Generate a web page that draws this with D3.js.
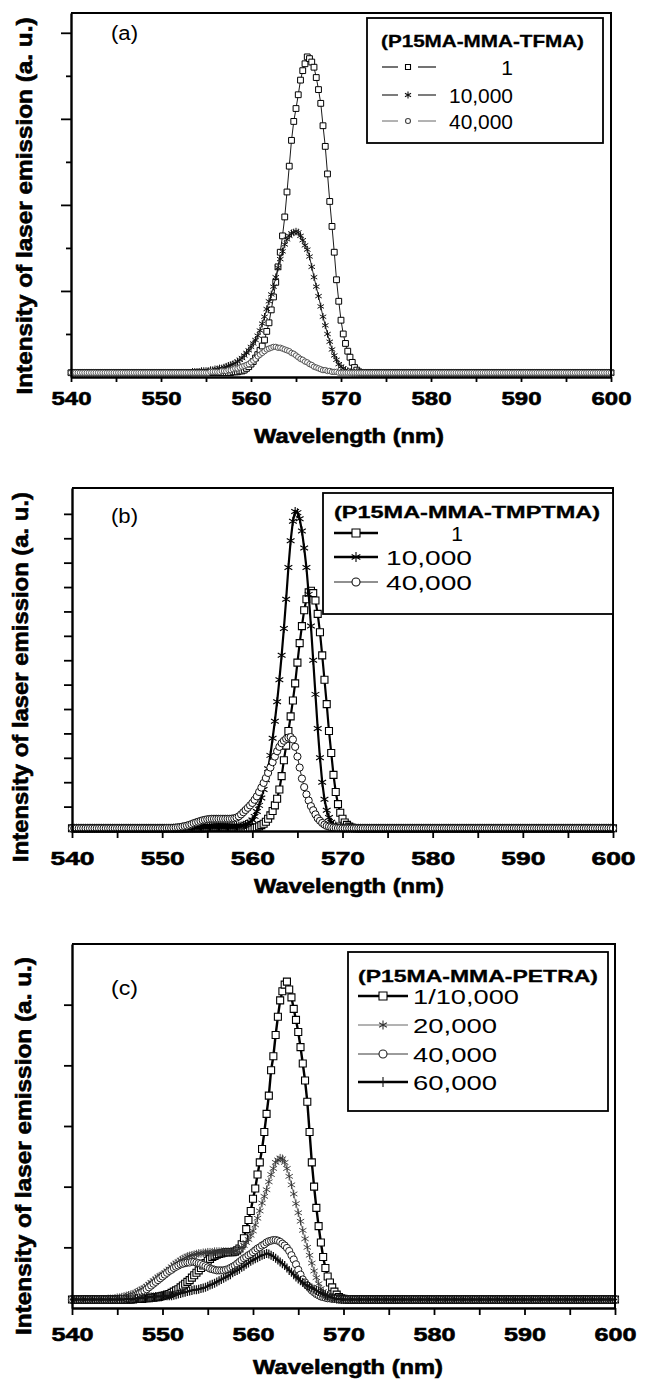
<!DOCTYPE html>
<html>
<head>
<meta charset="utf-8">
<title>Laser emission spectra</title>
<script src="https://cdn.jsdelivr.net/npm/d3@7"></script>
<style>
  html, body { margin: 0; padding: 0; background: #fff; }
  svg { display: block; }
  text { font-family: "Liberation Sans", Arial, sans-serif; fill: #000; }
</style>
</head>
<body>
<svg id="figure" width="652" height="1383"></svg>
<script>
// Wavelength axis (nm): every spectrum is sampled every 0.25 nm from 540 to 600 nm
const wavelengthStart = 540;
const wavelengthStep = 0.25;
const xTickValues = [540, 545, 550, 555, 560, 565, 570, 575, 580, 585, 590, 595, 600];
const xTickLabels = [540, 550, 560, 570, 580, 590, 600];

// Intensities in arbitrary units x100, one value per wavelength sample (241 each)

// (a) P15MA-MMA-TFMA
const titleA = "(P15MA-MMA-TFMA)";
const legendA = ["1", "10,000", "40,000"];
const tfma1 = [
  5,5,5,5,5,5,5,5,5,5,5,5,5,5,5,5,5,5,5,5,
  5,5,5,5,5,5,5,5,5,5,5,5,5,5,5,5,5,5,5,5,
  5,5,5,5,5,5,5,5,5,5,5,5,5,5,5,5,5,5,5,5,
  5,5,5,5,5,5,5,5,5,5,5,5,6,6,6,7,7,8,10,12,
  15,18,22,26,31,36,43,53,63,78,93,110,128,145,164,186,215,245,275,297,
  312,328,345,356,364,372,370,366,360,348,334,318,292,268,236,204,175,145,113,88,
  66,50,39,30,23,17,11,8,6,5,5,5,5,5,5,5,5,5,5,5,
  5,5,5,5,5,5,5,5,5,5,5,5,5,5,5,5,5,5,5,5,
  5,5,5,5,5,5,5,5,5,5,5,5,5,5,5,5,5,5,5,5,
  5,5,5,5,5,5,5,5,5,5,5,5,5,5,5,5,5,5,5,5,
  5,5,5,5,5,5,5,5,5,5,5,5,5,5,5,5,5,5,5,5,
  5,5,5,5,5,5,5,5,5,5,5,5,5,5,5,5,5,5,5,5,
  5
];
const tfma10k = [
  5,5,5,5,5,5,5,5,5,5,5,5,5,5,5,5,5,5,5,5,
  5,5,5,5,5,5,5,5,5,5,5,5,5,5,5,5,5,5,5,5,
  5,5,5,5,5,5,5,5,5,5,5,5,5,5,6,6,6,6,7,7,
  7,7,8,8,9,9,10,10,11,12,13,14,15,16,18,20,22,25,28,31,
  35,39,43,48,54,62,70,79,88,96,105,116,127,137,146,154,160,164,167,168,
  169,168,164,159,153,148,140,128,116,105,94,82,70,60,50,41,32,25,20,15,
  12,10,8,7,6,5,5,5,5,5,5,5,5,5,5,5,5,5,5,5,
  5,5,5,5,5,5,5,5,5,5,5,5,5,5,5,5,5,5,5,5,
  5,5,5,5,5,5,5,5,5,5,5,5,5,5,5,5,5,5,5,5,
  5,5,5,5,5,5,5,5,5,5,5,5,5,5,5,5,5,5,5,5,
  5,5,5,5,5,5,5,5,5,5,5,5,5,5,5,5,5,5,5,5,
  5,5,5,5,5,5,5,5,5,5,5,5,5,5,5,5,5,5,5,5,
  5
];
const tfma40k = [
  5,5,5,5,5,5,5,5,5,5,5,5,5,5,5,5,5,5,5,5,
  5,5,5,5,5,5,5,5,5,5,5,5,5,5,5,5,5,5,5,5,
  5,5,5,5,5,5,5,5,5,5,5,5,5,5,5,5,5,5,5,5,
  5,5,6,6,6,6,6,7,7,7,8,8,9,10,10,11,12,13,14,15,
  17,19,21,24,26,28,30,32,33,34,35,35,34,34,33,32,31,30,28,27,
  25,23,21,20,18,17,15,14,12,11,10,9,8,8,7,7,6,6,6,5,
  5,5,5,5,5,5,5,5,5,5,5,5,5,5,5,5,5,5,5,5,
  5,5,5,5,5,5,5,5,5,5,5,5,5,5,5,5,5,5,5,5,
  5,5,5,5,5,5,5,5,5,5,5,5,5,5,5,5,5,5,5,5,
  5,5,5,5,5,5,5,5,5,5,5,5,5,5,5,5,5,5,5,5,
  5,5,5,5,5,5,5,5,5,5,5,5,5,5,5,5,5,5,5,5,
  5,5,5,5,5,5,5,5,5,5,5,5,5,5,5,5,5,5,5,5,
  5
];

// (b) P15MA-MMA-TMPTMA
const titleB = "(P15MA-MMA-TMPTMA)";
const legendB = ["1", "10,000", "40,000"];
const tmptma1 = [
  11,11,11,11,11,11,11,11,11,11,11,11,11,11,11,11,11,11,11,11,
  11,11,11,11,11,11,11,11,11,11,11,11,11,11,11,11,11,11,11,11,
  11,11,11,11,11,11,11,11,11,11,11,11,11,11,11,11,11,11,11,11,
  12,12,13,13,14,14,14,14,14,13,13,13,12,12,12,12,12,12,12,12,
  12,13,15,19,24,30,38,50,64,82,105,132,170,225,290,350,410,470,535,605,
  690,770,840,905,950,978,985,975,945,890,815,720,620,520,410,320,230,160,110,75,
  50,35,25,18,14,12,11,11,11,11,11,11,11,11,11,11,11,11,11,11,
  11,11,11,11,11,11,11,11,11,11,11,11,11,11,11,11,11,11,11,11,
  11,11,11,11,11,11,11,11,11,11,11,11,11,11,11,11,11,11,11,11,
  11,11,11,11,11,11,11,11,11,11,11,11,11,11,11,11,11,11,11,11,
  11,11,11,11,11,11,11,11,11,11,11,11,11,11,11,11,11,11,11,11,
  11,11,11,11,11,11,11,11,11,11,11,11,11,11,11,11,11,11,11,11,
  11
];
const tmptma10k = [
  11,11,11,11,11,11,11,11,11,11,11,11,11,11,11,11,11,11,11,11,
  11,11,11,11,11,11,11,11,11,11,11,11,11,11,11,11,11,11,11,11,
  11,11,11,11,11,11,11,12,12,12,13,13,14,14,15,15,16,16,17,17,
  18,18,18,18,18,18,18,18,17,17,17,18,18,19,20,21,24,27,30,36,
  45,60,80,105,135,170,210,255,310,380,450,530,620,720,830,950,1080,1190,1270,1310,
  1305,1280,1230,1160,1080,970,840,700,560,420,300,200,130,85,55,36,25,20,16,14,
  12,11,11,11,11,11,11,11,11,11,11,11,11,11,11,11,11,11,11,11,
  11,11,11,11,11,11,11,11,11,11,11,11,11,11,11,11,11,11,11,11,
  11,11,11,11,11,11,11,11,11,11,11,11,11,11,11,11,11,11,11,11,
  11,11,11,11,11,11,11,11,11,11,11,11,11,11,11,11,11,11,11,11,
  11,11,11,11,11,11,11,11,11,11,11,11,11,11,11,11,11,11,11,11,
  11,11,11,11,11,11,11,11,11,11,11,11,11,11,11,11,11,11,11,11,
  11
];
const tmptma40k = [
  11,11,11,11,11,11,11,11,11,11,11,11,11,11,11,11,11,11,11,11,
  11,11,11,11,11,11,11,11,11,11,11,11,11,11,11,11,11,11,11,11,
  11,11,12,12,12,13,14,15,16,18,20,22,25,28,32,35,38,41,44,46,
  48,49,50,50,50,50,50,50,50,50,50,51,52,55,60,68,77,86,95,105,
  115,128,142,160,178,197,217,238,260,282,305,327,345,360,370,378,383,385,375,345,
  305,260,215,180,150,125,102,85,68,52,42,33,26,21,18,16,14,13,12,12,
  11,11,11,11,11,11,11,11,11,11,11,11,11,11,11,11,11,11,11,11,
  11,11,11,11,11,11,11,11,11,11,11,11,11,11,11,11,11,11,11,11,
  11,11,11,11,11,11,11,11,11,11,11,11,11,11,11,11,11,11,11,11,
  11,11,11,11,11,11,11,11,11,11,11,11,11,11,11,11,11,11,11,11,
  11,11,11,11,11,11,11,11,11,11,11,11,11,11,11,11,11,11,11,11,
  11,11,11,11,11,11,11,11,11,11,11,11,11,11,11,11,11,11,11,11,
  11
];

// (c) P15MA-MMA-PETRA
const titleC = "(P15MA-MMA-PETRA)";
const legendC = ["1/10,000", "20,000", "40,000", "60,000"];
const petra10k = [
  14,14,14,14,14,14,14,14,14,14,14,14,14,14,14,14,14,14,14,14,
  14,14,14,14,14,14,14,14,15,15,15,15,16,16,16,17,17,18,18,19,
  20,21,22,23,25,27,29,31,34,37,40,43,46,50,54,58,62,66,70,74,
  78,81,84,86,88,89,90,91,92,92,92,92,93,95,98,105,115,130,145,160,
  180,197,220,240,262,290,320,350,392,415,450,480,507,522,533,538,525,512,493,475,
  455,430,403,375,340,290,240,200,165,135,108,84,66,52,42,34,27,22,18,16,
  15,14,14,14,14,14,14,14,14,14,14,14,14,14,14,14,14,14,14,14,
  14,14,14,14,14,14,14,14,14,14,14,14,14,14,14,14,14,14,14,14,
  14,14,14,14,14,14,14,14,14,14,14,14,14,14,14,14,14,14,14,14,
  14,14,14,14,14,14,14,14,14,14,14,14,14,14,14,14,14,14,14,14,
  14,14,14,14,14,14,14,14,14,14,14,14,14,14,14,14,14,14,14,14,
  14,14,14,14,14,14,14,14,14,14,14,14,14,14,14,14,14,14,14,14,
  14
];
const petra20k = [
  14,14,14,14,14,14,14,14,14,14,14,14,14,14,14,14,15,15,15,16,
  17,17,18,19,20,21,22,23,25,27,29,31,33,36,39,42,45,48,51,53,
  55,58,61,64,68,71,74,76,79,81,83,85,86,87,88,89,90,90,91,91,
  92,92,92,93,93,93,93,93,93,93,93,93,94,95,97,100,103,108,113,120,
  127,137,148,160,173,184,195,208,220,230,240,244,247,246,240,230,217,203,188,172,
  157,143,128,114,100,87,74,61,50,40,32,27,23,20,18,17,16,15,15,14,
  14,14,14,14,14,14,14,14,14,14,14,14,14,14,14,14,14,14,14,14,
  14,14,14,14,14,14,14,14,14,14,14,14,14,14,14,14,14,14,14,14,
  14,14,14,14,14,14,14,14,14,14,14,14,14,14,14,14,14,14,14,14,
  14,14,14,14,14,14,14,14,14,14,14,14,14,14,14,14,14,14,14,14,
  14,14,14,14,14,14,14,14,14,14,14,14,14,14,14,14,14,14,14,14,
  14,14,14,14,14,14,14,14,14,14,14,14,14,14,14,14,14,14,14,14,
  14
];
const petra40k = [
  14,14,14,14,14,14,14,14,14,14,14,14,14,14,14,14,14,14,14,14,
  14,14,15,15,16,17,18,19,20,22,24,26,28,31,34,37,40,43,46,49,
  52,55,58,61,63,66,68,70,72,73,74,75,75,76,76,75,74,73,71,69,
  67,65,64,63,62,62,62,62,63,64,66,68,70,73,76,79,82,84,87,89,
  92,95,98,100,103,105,108,110,111,112,112,111,109,106,103,99,94,87,80,72,
  63,55,47,42,37,33,29,26,23,21,19,18,17,16,16,15,15,15,14,14,
  14,14,14,14,14,14,14,14,14,14,14,14,14,14,14,14,14,14,14,14,
  14,14,14,14,14,14,14,14,14,14,14,14,14,14,14,14,14,14,14,14,
  14,14,14,14,14,14,14,14,14,14,14,14,14,14,14,14,14,14,14,14,
  14,14,14,14,14,14,14,14,14,14,14,14,14,14,14,14,14,14,14,14,
  14,14,14,14,14,14,14,14,14,14,14,14,14,14,14,14,14,14,14,14,
  14,14,14,14,14,14,14,14,14,14,14,14,14,14,14,14,14,14,14,14,
  14
];
const petra60k = [
  14,14,14,14,14,14,14,14,14,14,14,14,14,14,14,14,14,14,14,14,
  14,14,14,14,15,15,15,15,16,16,16,17,17,17,18,18,18,19,19,19,
  19,20,20,20,20,21,22,23,24,25,26,27,28,29,30,30,31,32,33,34,
  36,38,39,41,43,45,47,49,51,53,55,58,60,62,64,67,69,72,74,77,
  79,81,83,85,87,88,90,89,87,85,82,79,76,73,70,66,62,59,55,51,
  48,45,42,39,37,35,33,31,29,27,25,23,21,20,18,17,16,15,15,14,
  14,14,14,14,14,14,14,14,14,14,14,14,14,14,14,14,14,14,14,14,
  14,14,14,14,14,14,14,14,14,14,14,14,14,14,14,14,14,14,14,14,
  14,14,14,14,14,14,14,14,14,14,14,14,14,14,14,14,14,14,14,14,
  14,14,14,14,14,14,14,14,14,14,14,14,14,14,14,14,14,14,14,14,
  14,14,14,14,14,14,14,14,14,14,14,14,14,14,14,14,14,14,14,14,
  14,14,14,14,14,14,14,14,14,14,14,14,14,14,14,14,14,14,14,14,
  14
];

const svg = d3.select("#figure");
const FONT = '"Liberation Sans", Arial, sans-serif';

// Symbol outlines centred on the origin
function markerPath(kind, s) {
  const h = s / 2;
  if (kind === "square") return `M${-h},${-h}H${h}V${h}H${-h}Z`;
  if (kind === "circle") return `M${h},0A${h},${h} 0 1,1 ${-h},0A${h},${h} 0 1,1 ${h},0Z`;
  if (kind === "star") {
    const c = h * 0.866, d = h * 0.5;
    return `M0,${-h}V${h}M${-c},${-d}L${c},${d}M${-c},${d}L${c},${-d}`;
  }
  // plus
  return `M0,${-h}V${h}M${-h * 0.55},0H${h * 0.55}`;
}

// Text helper; "heavy" thickens the bold face with a thin outline
function addText(g, str, o) {
  const t = g.append("text").text(str)
    .attr("x", o.x).attr("y", o.y)
    .attr("font-size", o.size)
    .attr("font-weight", o.bold ? "bold" : "normal")
    .attr("font-family", FONT)
    .attr("text-anchor", o.anchor || "start");
  if (o.heavy) t.attr("stroke", "#000").attr("stroke-width", o.heavy);
  if (o.width) t.attr("textLength", o.width).attr("lengthAdjust", "spacingAndGlyphs");
  if (o.rotate) t.attr("transform", `rotate(${o.rotate},${o.x},${o.y})`);
  return t;
}

function drawPanel(p) {
  const x = d3.scaleLinear().domain([540, 600]).range([p.left, p.right]);
  const y = d3.scaleLinear().domain([0, p.yMax]).range([p.bottom, p.top]);
  const g = svg.append("g");

  // spectra: connecting line, then symbols
  p.series.forEach(s => {
    const pts = s.values.map((v, i) => [wavelengthStart + i * wavelengthStep, v]);
    const sg = g.append("g");
    sg.append("path")
      .attr("d", d3.line().x(d => x(d[0])).y(d => y(d[1]))(pts))
      .attr("fill", "none")
      .attr("stroke", s.lineColor)
      .attr("stroke-width", s.lineWidth);
    const open = s.marker === "square" || s.marker === "circle";
    sg.selectAll("path.sym").data(pts).join("path")
      .attr("class", "sym")
      .attr("d", markerPath(s.marker, s.size))
      .attr("transform", d => `translate(${x(d[0]).toFixed(2)},${y(d[1]).toFixed(2)})`)
      .attr("fill", open ? "#fff" : "none")
      .attr("stroke", s.color)
      .attr("stroke-width", s.strokeWidth);
  });

  // top and right edges of the frame
  g.append("path")
    .attr("d", `M${p.left},${p.top}H${p.right}V${p.bottom}`)
    .attr("fill", "none").attr("stroke", "#000").attr("stroke-width", 2);

  // x axis
  const xa = g.append("g")
    .attr("transform", `translate(0,${p.bottom})`)
    .call(d3.axisBottom(x).tickValues(xTickValues).tickSizeInner(p.xTickLen).tickSizeOuter(0)
      .tickFormat(d => xTickLabels.includes(d) ? String(d) : ""))
    .attr("font-size", null).attr("font-family", null);
  xa.select(".domain").attr("stroke-width", 2.4);
  xa.selectAll(".tick line").attr("stroke-width", 1.8);
  xa.selectAll(".tick text")
    .attr("y", p.xLabelY - p.bottom).attr("dy", null)
    .attr("font-size", 19).attr("font-weight", "bold").attr("font-family", FONT)
    .attr("stroke", "#000").attr("stroke-width", 0.6)
    .each(function (d) {
      if (xTickLabels.includes(d)) d3.select(this).attr("textLength", p.xLabelWidth).attr("lengthAdjust", "spacingAndGlyphs");
    });

  // y axis (no tick labels)
  const ya = g.append("g")
    .attr("transform", `translate(${p.left},0)`)
    .call(d3.axisLeft(y).tickValues(p.yTicks).tickSizeOuter(0).tickFormat(""));
  ya.select(".domain").attr("stroke-width", 2.4);
  ya.selectAll(".tick line")
    .attr("x2", d => -(d % p.yMajor === 0 ? p.yTickLong : p.yTickShort))
    .attr("stroke-width", 1.8);

  // axis titles and panel tag
  addText(g, "Wavelength (nm)", { x: p.xTitle[0], y: p.xTitle[1], size: 20, bold: true, heavy: 0.6, anchor: "middle", width: 190 });
  addText(g, "Intensity of laser emission (a. u.)", { x: p.yTitle[0], y: p.yTitle[1], size: 22, bold: true, heavy: 0.6, anchor: "middle", width: p.yTitle[2], rotate: -90 });
  addText(g, p.tag, { x: p.tagPos[0], y: p.tagPos[1], size: 20, width: 27 });

  // legend
  const L = p.legend;
  g.append("rect")
    .attr("x", L.box[0]).attr("y", L.box[1])
    .attr("width", L.box[2] - L.box[0]).attr("height", L.box[3] - L.box[1])
    .attr("fill", "#fff").attr("stroke", "#000").attr("stroke-width", 1.8);
  addText(g, L.title, { x: L.titleX, y: L.titleY, size: L.titleSize, bold: true, heavy: 0.3, width: L.titleWidth });
  p.series.forEach((s, i) => {
    const cy = L.itemY[i];
    L.segments.forEach(seg => {
      g.append("line")
        .attr("x1", seg[0]).attr("x2", seg[1]).attr("y1", cy).attr("y2", cy)
        .attr("stroke", s.lineColor).attr("stroke-width", L.lineWidths[i]);
    });
    const open = s.marker === "square" || s.marker === "circle";
    g.append("path")
      .attr("d", markerPath(s.marker, L.markerSize[i]))
      .attr("transform", `translate(${L.markerX},${cy})`)
      .attr("fill", open ? "#fff" : "none")
      .attr("stroke", s.color).attr("stroke-width", 1.1);
    addText(g, L.labels[i], {
      x: L.textX[i], y: cy + 7.5, size: 21, anchor: L.textAnchor[i], width: L.textWidth[i]
    });
  });
}

drawPanel({
  left: 71, right: 611, top: 13, bottom: 377, yMax: 423,
  yTicks: [50, 100, 150, 200, 250, 300, 350, 400], yMajor: 100, yTickLong: 10, yTickShort: 5,
  xTickLen: 5, xLabelY: 405, xLabelWidth: 40,
  xTitle: [349, 443], yTitle: [32, 206, 377],
  tag: "(a)", tagPos: [111, 40],
  series: [
    { values: tfma1, marker: "square", size: 5.8, color: "#000", strokeWidth: 1, lineColor: "#000", lineWidth: 0.9 },
    { values: tfma10k, marker: "star", size: 7.5, color: "#111", strokeWidth: 1, lineColor: "#111", lineWidth: 0.9 },
    { values: tfma40k, marker: "circle", size: 5.4, color: "#444", strokeWidth: 0.9, lineColor: "#555", lineWidth: 0.7 }
  ],
  legend: {
    box: [367, 18, 603, 143], title: titleA, titleX: 381, titleY: 47, titleSize: 17, titleWidth: 203,
    labels: legendA, itemY: [67, 95, 121], segments: [[382, 398], [418, 436]], markerX: 408,
    markerSize: [5, 7, 5], lineWidths: [1.1, 1.1, 0.9],
    textX: [513, 513, 513], textAnchor: ["end", "end", "end"], textWidth: [null, 64, 64]
  }
});

drawPanel({
  left: 72, right: 613, top: 488, bottom: 831, yMax: 1406,
  yTicks: [100, 200, 300, 400, 500, 600, 700, 800, 900, 1000, 1100, 1200, 1300], yMajor: 100, yTickLong: 8, yTickShort: 8,
  xTickLen: 7, xLabelY: 865, xLabelWidth: 44,
  xTitle: [349, 893], yTitle: [28, 677, 370],
  tag: "(b)", tagPos: [111, 523],
  series: [
    { values: tmptma1, marker: "square", size: 7, color: "#000", strokeWidth: 1.1, lineColor: "#000", lineWidth: 2.2 },
    { values: tmptma10k, marker: "star", size: 9, color: "#000", strokeWidth: 1.1, lineColor: "#000", lineWidth: 2.2 },
    { values: tmptma40k, marker: "circle", size: 7.2, color: "#111", strokeWidth: 1, lineColor: "#222", lineWidth: 1 }
  ],
  legend: {
    box: [323, 493, 613, 614], title: titleB, titleX: 334, titleY: 518, titleSize: 16, titleWidth: 266,
    labels: legendB, itemY: [533, 557, 582], segments: [[334, 378]], markerX: 356,
    markerSize: [8, 10, 8], lineWidths: [2.4, 2.4, 1.1],
    textX: [457, 386, 386], textAnchor: ["middle", "start", "start"], textWidth: [null, 86, 86]
  }
});

drawPanel({
  left: 72, right: 615, top: 944, bottom: 1308, yMax: 600,
  yTicks: [100, 200, 300, 400, 500], yMajor: 100, yTickLong: 8, yTickShort: 8,
  xTickLen: 7, xLabelY: 1341, xLabelWidth: 42,
  xTitle: [348, 1374], yTitle: [31, 1146, 378],
  tag: "(c)", tagPos: [111, 995],
  series: [
    { values: petra10k, marker: "square", size: 7, color: "#000", strokeWidth: 1.1, lineColor: "#000", lineWidth: 2.4 },
    { values: petra20k, marker: "star", size: 8.5, color: "#333", strokeWidth: 0.9, lineColor: "#555", lineWidth: 0.8 },
    { values: petra40k, marker: "circle", size: 7.2, color: "#222", strokeWidth: 1, lineColor: "#222", lineWidth: 1 },
    { values: petra60k, marker: "plus", size: 9, color: "#111", strokeWidth: 1.3, lineColor: "#000", lineWidth: 2 }
  ],
  legend: {
    box: [348, 952, 608, 1111], title: titleC, titleX: 358, titleY: 982, titleSize: 17, titleWidth: 240,
    labels: legendC, itemY: [996, 1025, 1054, 1082], segments: [[358, 408]], markerX: 383,
    markerSize: [8, 9, 8, 10], lineWidths: [2.4, 0.9, 0.9, 2.4],
    textX: [413, 413, 413, 413], textAnchor: ["start", "start", "start", "start"], textWidth: [106, 84, 84, 84]
  }
});
</script>
</body>
</html>
